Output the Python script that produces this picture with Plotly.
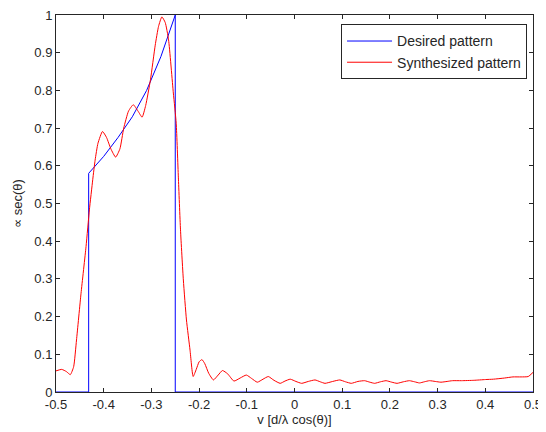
import plotly.graph_objects as go

# desired pattern (piecewise)
v_desired = [-0.5, -0.4315, -0.4315, -0.40, -0.37, -0.34, -0.31, -0.28, -0.25, -0.25, 0.5]
p_desired = [0.0, 0.0, 0.58, 0.625, 0.675, 0.73, 0.80, 0.89, 1.0, 0.0, 0.0]

# synthesized pattern
v_synth = [-0.500, -0.488, -0.478, -0.470, -0.463, -0.457, -0.4475, -0.437, -0.430, -0.423,
           -0.418, -0.412, -0.4025, -0.394, -0.385, -0.375, -0.366, -0.358, -0.348, -0.338,
           -0.328, -0.3195, -0.312, -0.302, -0.292, -0.285, -0.278, -0.271, -0.264, -0.254,
           -0.248, -0.2435, -0.239, -0.233, -0.2265, -0.219, -0.2125, -0.206, -0.200, -0.194,
           -0.188, -0.180, -0.170, -0.160, -0.151, -0.140, -0.127, -0.114, -0.101, -0.090,
           -0.078, -0.066, -0.055, -0.043, -0.030, -0.020, -0.009, 0.003, 0.015, 0.029,
           0.043, 0.054, 0.064, 0.080, 0.095, 0.107, 0.119, 0.133, 0.147, 0.158,
           0.168, 0.180, 0.192, 0.204, 0.215, 0.228, 0.241, 0.252, 0.262, 0.272,
           0.283, 0.295, 0.307, 0.320, 0.331, 0.350, 0.376, 0.400, 0.417, 0.440,
           0.458, 0.475, 0.490, 0.500]
p_synth = [0.056, 0.060, 0.054, 0.046, 0.067, 0.138, 0.262, 0.386, 0.483, 0.563,
           0.615, 0.660, 0.691, 0.675, 0.645, 0.623, 0.645, 0.700, 0.745, 0.762,
           0.745, 0.729, 0.760, 0.828, 0.920, 0.970, 0.995, 0.980, 0.934, 0.793,
           0.713, 0.570, 0.430, 0.297, 0.191, 0.111, 0.041, 0.060, 0.080, 0.086,
           0.075, 0.050, 0.032, 0.045, 0.057, 0.048, 0.029, 0.037, 0.045, 0.036,
           0.026, 0.034, 0.041, 0.031, 0.023, 0.029, 0.034, 0.028, 0.023, 0.028,
           0.032, 0.027, 0.023, 0.028, 0.032, 0.027, 0.023, 0.028, 0.030, 0.026,
           0.023, 0.027, 0.030, 0.026, 0.023, 0.027, 0.030, 0.027, 0.024, 0.027,
           0.030, 0.028, 0.026, 0.028, 0.030, 0.030, 0.031, 0.033, 0.034, 0.037,
           0.040, 0.040, 0.041, 0.052]

x_ticks = [-0.5, -0.4, -0.3, -0.2, -0.1, 0, 0.1, 0.2, 0.3, 0.4, 0.5]
x_labels = ["-0.5", "-0.4", "-0.3", "-0.2", "-0.1", "0", "0.1", "0.2", "0.3", "0.4", "0.5"]
y_ticks = [0, 0.1, 0.2, 0.3, 0.4, 0.5, 0.6, 0.7, 0.8, 0.9, 1]
y_labels = ["0", "0.1", "0.2", "0.3", "0.4", "0.5", "0.6", "0.7", "0.8", "0.9", "1"]

FONT = "Liberation Sans"
INK = "#262626"

fig = go.Figure()
fig.add_trace(go.Scatter(x=v_desired, y=p_desired, mode="lines", name="Desired pattern",
                         line=dict(color="#0000ff", width=1)))
fig.add_trace(go.Scatter(x=v_synth, y=p_synth, mode="lines", name="Synthesized pattern",
                         line=dict(color="#ff0000", width=1, shape="spline", smoothing=0.5)))

axis_style = dict(showline=True, linecolor=INK, linewidth=1, mirror="ticks",
                  ticks="inside", ticklen=4, tickcolor=INK, showgrid=False,
                  zeroline=False, automargin=False, ticklabeloverflow="allow",
                  tickfont=dict(family=FONT, size=13, color=INK))

fig.update_xaxes(range=[-0.5, 0.5], tickvals=x_ticks, ticktext=x_labels,
                 title=dict(text="v [d/λ cos(θ)]", standoff=2,
                            font=dict(family=FONT, size=13, color=INK)),
                 **axis_style)
fig.update_yaxes(range=[0, 1], tickvals=y_ticks, ticktext=y_labels,
                 title=dict(text="∝ sec(θ)", standoff=8,
                            font=dict(family=FONT, size=13, color=INK)),
                 **axis_style)

# the page body adds an 8px offset, so the figure is 8px smaller each way
fig.update_layout(
    width=538, height=424,
    margin=dict(l=48, r=13, t=7, b=40),
    paper_bgcolor="white", plot_bgcolor="white",
    legend=dict(x=0.9875, y=0.975, xanchor="right", yanchor="top",
                bgcolor="white", bordercolor=INK, borderwidth=1,
                font=dict(family=FONT, size=14, color=INK),
                itemwidth=45, tracegroupgap=0),
)

fig.write_html("out.html")
